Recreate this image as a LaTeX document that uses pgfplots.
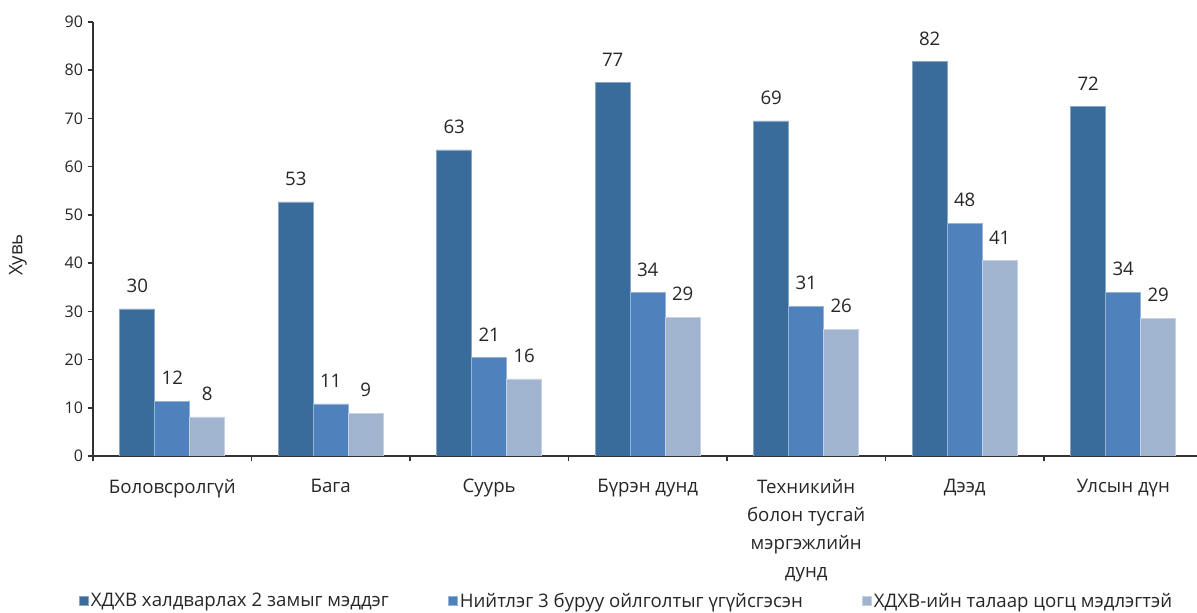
\documentclass[border=0pt]{standalone}
\usepackage{fontspec}
\setmainfont{Open Sans}
\usepackage{pgfplots}
\pgfplotsset{compat=1.18}
\usetikzlibrary{calc}

\definecolor{cA}{RGB}{58,108,155}
\definecolor{cB}{RGB}{79,129,189}
\definecolor{cC}{RGB}{160,180,208}
\definecolor{txt}{RGB}{38,38,38}
\definecolor{axl}{RGB}{50,50,50}

\begin{document}
\begin{tikzpicture}
\begin{axis}[
  name=ax,
  at={(0,0)}, anchor=south west,
  scale only axis,
  width=832.1pt, height=325.5pt,
  ybar=0pt,
  bar width=0.2208,
  xmin=-0.5, xmax=6.5,
  ymin=0, ymax=90,
  ytick={0,10,...,90},
  xtick={0,1,2,3,4,5,6},
  xticklabels={Боловсролгүй, Бага, Суурь, Бүрэн дунд,
    {Техникийн\\болон тусгай\\мэргэжлийн\\дунд}, Дээд, Улсын дүн},
  minor xtick={-0.5,0.5,...,6.5},
  tick align=outside,
  major tick length=4pt,
  minor tick length=4pt,
  xtick style={draw=none},
  minor x tick style={draw=axl, line width=1.2pt},
  y tick style={draw=axl, line width=1.2pt},
  axis x line*=bottom,
  axis y line*=left,
  axis line style={-, draw=axl, line width=1.5pt},
  /pgf/number format/assume math mode=true,
  yticklabel style={font=\fontsize{12}{14}\selectfont, text=txt},
  xticklabel style={font=\fontsize{14}{21}\selectfont, text=txt, align=center, anchor=north, yshift=-10pt},
  ylabel={Хувь},
  every axis y label/.style={at={(rel axis cs:0,0.463)}, xshift=-56.25pt, rotate=90, anchor=center, font=\fontsize{14}{17}\selectfont, text=txt},
  point meta=explicit symbolic,
  nodes near coords,
  every node near coord/.append style={font=\fontsize{14}{17}\selectfont, text=txt, yshift=8.5pt},
  legend columns=3,
  legend style={draw=none, fill=none, at={(rel axis cs:0.481,-0.334)}, anchor=center,
    font=\fontsize{14}{17}\selectfont, text=txt,
    /tikz/every even column/.append style={column sep=42pt}},
  legend cell align=left,
  legend image code/.code={\fill[#1] (0pt,-3.4pt) rectangle (6.8pt,3.4pt);},
]
\addplot[fill=cA, draw=cA!60!white, line width=0.4pt] coordinates {
  (0,30.5) [30] (1,52.7) [53] (2,63.5) [63] (3,77.4) [77]
  (4,69.5) [69] (5,81.8) [82] (6,72.5) [72]
};
\addlegendentry{ХДХВ халдварлах 2 замыг мэддэг}
\addplot[fill=cB, draw=cB!60!white, line width=0.4pt] coordinates {
  (0,11.4) [12] (1,10.8) [11] (2,20.5) [21] (3,33.9) [34]
  (4,31.1) [31] (5,48.3) [48] (6,34.0) [34]
};
\addlegendentry{Нийтлэг 3 буруу ойлголтыг үгүйсгэсэн}
\addplot[fill=cC, draw=cC!60!white, line width=0.4pt] coordinates {
  (0,8.1) [8] (1,8.9) [9] (2,16.0) [16] (3,28.8) [29]
  (4,26.3) [26] (5,40.5) [41] (6,28.6) [29]
};
\addlegendentry{ХДХВ-ийн талаар цогц мэдлэгтэй}
\end{axis}
\pgfresetboundingbox
\path[use as bounding box] ($(ax.south west)+(-69.75pt,-117.75pt)$) rectangle ($(ax.south west)+(828pt,342pt)$);
\end{tikzpicture}
\end{document}
